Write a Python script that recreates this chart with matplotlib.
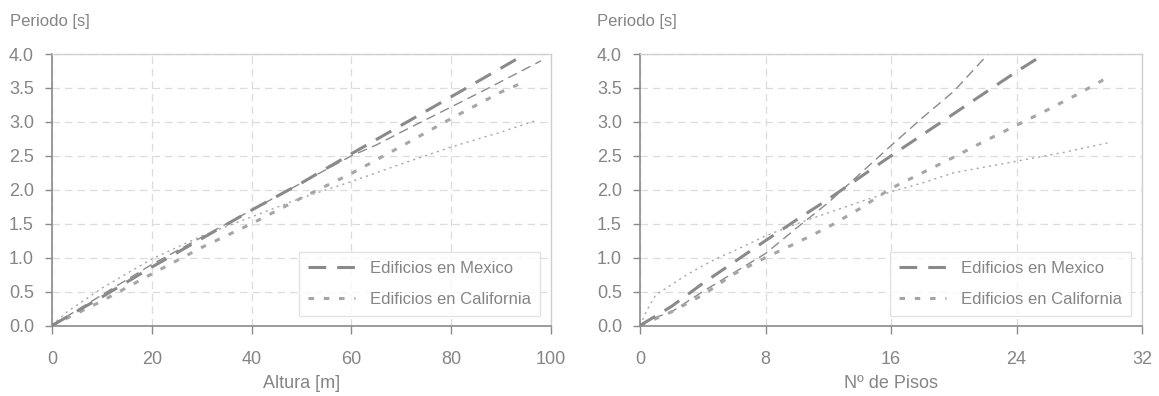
import matplotlib
matplotlib.use("Agg")
import matplotlib.pyplot as plt
from matplotlib.lines import Line2D

plt.rcParams['font.family'] = ['Liberation Sans', 'DejaVu Sans']

# ---- Data: left panel (Altura [m]) ----
alt_mex_a_x = [0, 10, 20, 30, 40, 50, 60, 70, 80, 93]
alt_mex_a_y = [0, 0.42, 0.86, 1.28, 1.70, 2.10, 2.53, 2.95, 3.37, 3.92]
alt_mex_b_x = [0, 10, 20, 30, 40, 50, 60, 65, 70, 80, 87, 98]
alt_mex_b_y = [0, 0.45, 0.90, 1.30, 1.70, 2.10, 2.50, 2.66, 2.85, 3.22, 3.48, 3.90]
alt_cal_a_x = [0, 5, 10, 20, 30, 40, 50, 60, 70, 80, 90, 95]
alt_cal_a_y = [0, 0.18, 0.36, 0.76, 1.15, 1.50, 1.88, 2.24, 2.64, 3.05, 3.44, 3.60]
alt_cal_b_x = [0, 3, 10, 20, 30, 40, 50, 60, 70, 80, 90, 97]
alt_cal_b_y = [0, 0.20, 0.55, 0.98, 1.32, 1.60, 1.88, 2.12, 2.38, 2.63, 2.85, 3.02]

# ---- Data: right panel (Nº de Pisos) ----
pis_mex_a_x = [0, 2, 4, 8, 10, 12, 16, 20, 24, 25.3]
pis_mex_a_y = [0, 0.28, 0.62, 1.25, 1.56, 1.86, 2.50, 3.12, 3.74, 3.93]
pis_mex_b_x = [0, 1, 2, 4, 6, 8, 10, 12, 14, 16, 18, 20, 22.2]
pis_mex_b_y = [0, 0.12, 0.20, 0.50, 0.78, 1.06, 1.44, 1.81, 2.23, 2.65, 3.06, 3.45, 4.0]
pis_cal_a_x = [0, 2, 4, 6, 8, 10, 12, 14, 16, 18, 20, 22, 24, 26, 28, 30]
pis_cal_a_y = [0, 0.20, 0.45, 0.76, 1.00, 1.22, 1.45, 1.72, 2.02, 2.25, 2.48, 2.72, 2.95, 3.18, 3.42, 3.68]
pis_cal_b_x = [0, 0.5, 1, 2, 3, 4, 5, 6, 8, 10, 12, 14, 16, 18, 20, 24, 27, 30]
pis_cal_b_y = [0, 0.25, 0.45, 0.60, 0.75, 0.88, 1.00, 1.10, 1.32, 1.50, 1.66, 1.82, 1.97, 2.10, 2.25, 2.42, 2.55, 2.70]

y_ticks = [0, 0.5, 1.0, 1.5, 2.0, 2.5, 3.0, 3.5, 4.0]
alt_ticks = [0, 20, 40, 60, 80, 100]
pis_ticks = [0, 8, 16, 24, 32]

legend_labels = ["Edificios en Mexico", "Edificios en California"]

C_MEX = "#8a8a8a"
C_CAL = "#a6a6a6"
C_TXT = "#858585"

fig = plt.figure(figsize=(11.59, 3.96), dpi=100)
ax1 = fig.add_axes([52/1159, 1-325.5/396, 499/1159, 271.5/396])
ax2 = fig.add_axes([640/1159, 1-325.5/396, 502/1159, 271.5/396])

def style(ax, xt, xlabel):
    ax.set_ylim(0, 4.0)
    ax.set_xlim(xt[0], xt[-1])
    ax.set_xticks(xt)
    ax.set_yticks(y_ticks)
    ax.set_yticklabels([f"{v:.1f}" for v in y_ticks])
    ax.grid(True, color="#dcdcdc", linestyle=(0, (6, 4)), linewidth=0.9)
    ax.set_axisbelow(True)
    for s in ["top", "right"]:
        ax.spines[s].set_color("#cfcfcf")
        ax.spines[s].set_linewidth(1.0)
    for s in ["left", "bottom"]:
        ax.spines[s].set_color("#8a8a8a")
        ax.spines[s].set_linewidth(1.2)
    ax.tick_params(axis="x", direction="out", length=5.5, width=1, color="#8a8a8a",
                   labelsize=13, labelcolor=C_TXT, pad=13)
    ax.tick_params(axis="y", direction="out", length=5, width=1, color="#8a8a8a",
                   labelsize=13, labelcolor=C_TXT, pad=8)
    ax.set_xlabel(xlabel, fontsize=13, color=C_TXT, labelpad=5)

def draw(ax, mex_a, mex_b, cal_a, cal_b):
    ax.plot(*mex_b, color=C_MEX, lw=1.0, dashes=(7, 4))
    ax.plot(*cal_b, color=C_CAL, lw=1.0, dashes=(1.5, 3))
    ax.plot(*cal_a, color=C_CAL, lw=2.2, dashes=(1.8, 3.2))
    ax.plot(*mex_a, color=C_MEX, lw=2.2, dashes=(5.8, 3.6))

draw(ax1, (alt_mex_a_x, alt_mex_a_y), (alt_mex_b_x, alt_mex_b_y),
     (alt_cal_a_x, alt_cal_a_y), (alt_cal_b_x, alt_cal_b_y))
draw(ax2, (pis_mex_a_x, pis_mex_a_y), (pis_mex_b_x, pis_mex_b_y),
     (pis_cal_a_x, pis_cal_a_y), (pis_cal_b_x, pis_cal_b_y))

style(ax1, alt_ticks, "Altura [m]")
style(ax2, pis_ticks, "Nº de Pisos")

handles = [Line2D([], [], color=C_MEX, lw=2.2, dashes=(5.8, 3.6)),
           Line2D([], [], color=C_CAL, lw=2.2, dashes=(1.8, 3.2))]
for ax, w in ((ax1, 499), (ax2, 502)):
    leg = ax.legend(handles, legend_labels, loc="lower right", fontsize=12,
                    frameon=True, fancybox=False, edgecolor="#dcdcdc",
                    handlelength=2.8, handletextpad=0.9, borderpad=0.55,
                    labelspacing=0.95, borderaxespad=0,
                    bbox_to_anchor=(1 - 11/w, 9.5/271.5))
    leg.get_frame().set_linewidth(1.0)
    for t in leg.get_texts():
        t.set_color(C_TXT)

fig.text(10/1159, 1-21.5/396, "Periodo [s]", fontsize=12, color=C_TXT, va="center", ha="left")
fig.text(597/1159, 1-21.5/396, "Periodo [s]", fontsize=12, color=C_TXT, va="center", ha="left")

fig.savefig("out.png", dpi=100)
